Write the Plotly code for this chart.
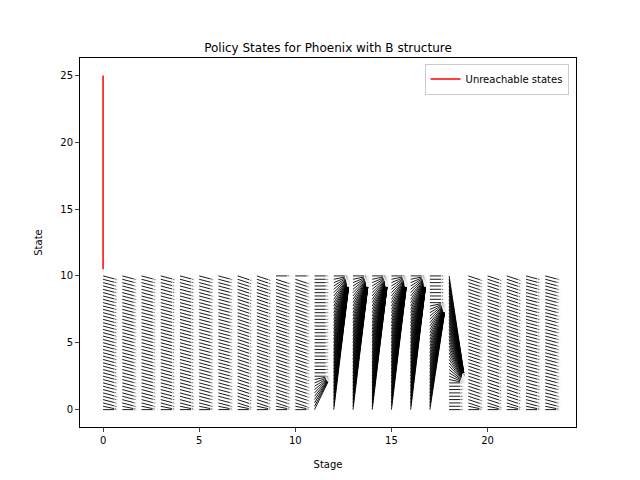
import plotly.graph_objects as go

# stages and state grid
stages = list(range(24))
states = [i * 0.25 for i in range(41)]

# next-state policy per stage
def policy(t, s):
    if t in (9, 10) and s >= 10:
        return 10
    if t <= 6:
        return max(s - 0.32, 0)
    if t <= 10:
        return max(s - 0.4, 0)
    if t == 11:
        return max(s, 2.5)
    if 12 <= t <= 16:
        return 10
    if t == 17:
        return max(s, 8)
    if t == 18:
        return min(s, 2)
    if t <= 21:
        return max(s - 0.4, 0)
    return max(s - 0.32, 0)

unreach_x = [0, 0]
unreach_y = [10.5, 25]

kx, ky = 0.8, 0.95  # arrow scale in x and state units
xs, ys, sizes = [], [], []
for t in stages:
    for s in states:
        n = policy(t, s)
        xs += [t, t + kx, None]
        ys += [s, s + ky * (n - s), None]
        sizes += [0, 4, 0]

fig = go.Figure()
fig.add_trace(go.Scatter(x=xs, y=ys, mode="lines+markers", showlegend=False,
                         line=dict(color="black", width=0.9),
                         marker=dict(symbol="arrow", angleref="previous", size=sizes, color="black")))
fig.add_trace(go.Scatter(x=unreach_x, y=unreach_y, mode="lines", name="Unreachable states",
                         line=dict(color="red", width=1.5)))

ax = dict(showgrid=False, zeroline=False, showline=True, linecolor="black", mirror=True,
          ticks="outside", ticklen=4, tickfont=dict(size=10, color="black"), automargin=False)
fig.update_layout(
    width=640, height=480, plot_bgcolor="white", paper_bgcolor="white",
    margin=dict(l=72, r=72, t=50, b=61),
    font=dict(family="DejaVu Sans", color="black"),
    title=dict(text="Policy States for Phoenix with B structure", x=0.5, xanchor="center",
               y=0.925, font=dict(size=12)),
    xaxis=dict(ax, range=[-1.2, 24.6], tickvals=[0, 5, 10, 15, 20], title=dict(text="Stage", font=dict(size=10))),
    yaxis=dict(ax, range=[-1.3, 26.3], tickvals=[0, 5, 10, 15, 20, 25], title=dict(text="State", font=dict(size=10))),
    legend=dict(x=0.985, y=0.985, xanchor="right", yanchor="top", bordercolor="#ccc", borderwidth=1,
                font=dict(size=10)),
)
fig.write_html("out.html")
